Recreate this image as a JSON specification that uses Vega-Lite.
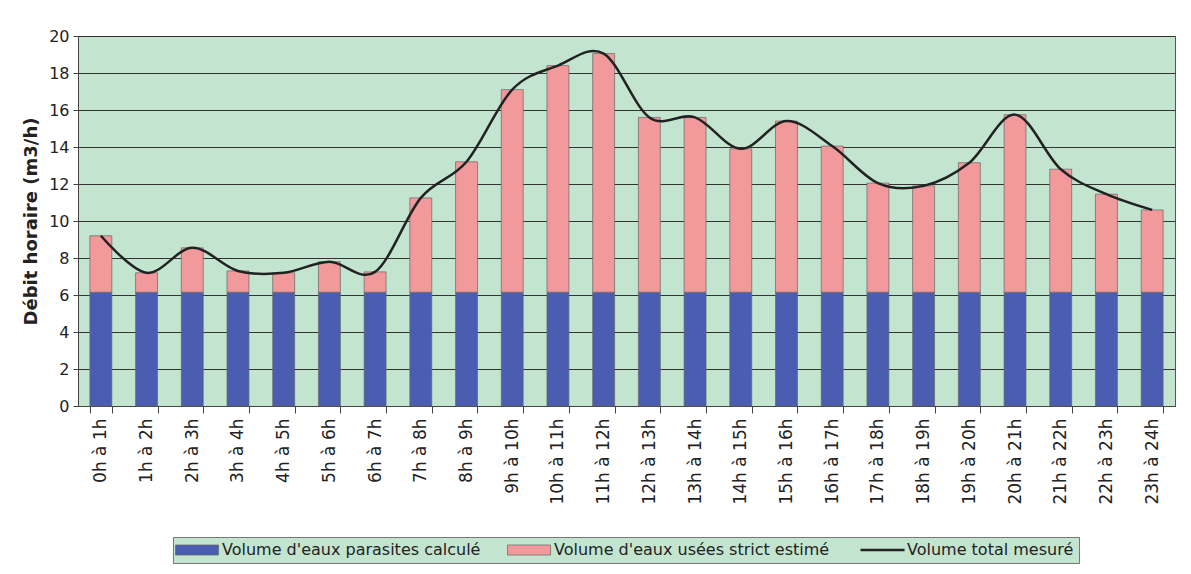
{
  "$schema": "https://vega.github.io/schema/vega-lite/v6.json",
  "width": 1097,
  "height": 370,
  "autosize": "none",
  "padding": {"left": 78, "top": 36, "right": 16, "bottom": 168},
  "background": "#ffffff",
  "config": {
    "font": "DejaVu Sans",
    "view": {"fill": "#c3e5d0", "stroke": "#555555", "strokeWidth": 1}
  },
  "datasets": {
    "tot": [
      {"h": "0h à 1h", "par": 6.15, "use": 3.05, "total": 9.2},
      {"h": "1h à 2h", "par": 6.15, "use": 1.05, "total": 7.2},
      {"h": "2h à 3h", "par": 6.15, "use": 2.4, "total": 8.55},
      {"h": "3h à 4h", "par": 6.15, "use": 1.15, "total": 7.3},
      {"h": "4h à 5h", "par": 6.15, "use": 1.05, "total": 7.2},
      {"h": "5h à 6h", "par": 6.15, "use": 1.65, "total": 7.8},
      {"h": "6h à 7h", "par": 6.15, "use": 1.1, "total": 7.25},
      {"h": "7h à 8h", "par": 6.15, "use": 5.1, "total": 11.25},
      {"h": "8h à 9h", "par": 6.15, "use": 7.05, "total": 13.2},
      {"h": "9h à 10h", "par": 6.15, "use": 10.95, "total": 17.1},
      {"h": "10h à 11h", "par": 6.15, "use": 12.25, "total": 18.4},
      {"h": "11h à 12h", "par": 6.15, "use": 12.9, "total": 19.05},
      {"h": "12h à 13h", "par": 6.15, "use": 9.45, "total": 15.6},
      {"h": "13h à 14h", "par": 6.15, "use": 9.45, "total": 15.6},
      {"h": "14h à 15h", "par": 6.15, "use": 7.75, "total": 13.9},
      {"h": "15h à 16h", "par": 6.15, "use": 9.25, "total": 15.4},
      {"h": "16h à 17h", "par": 6.15, "use": 7.9, "total": 14.05},
      {"h": "17h à 18h", "par": 6.15, "use": 5.9, "total": 12.05},
      {"h": "18h à 19h", "par": 6.15, "use": 5.75, "total": 11.9},
      {"h": "19h à 20h", "par": 6.15, "use": 7.0, "total": 13.15},
      {"h": "20h à 21h", "par": 6.15, "use": 9.6, "total": 15.75},
      {"h": "21h à 22h", "par": 6.15, "use": 6.65, "total": 12.8},
      {"h": "22h à 23h", "par": 6.15, "use": 5.3, "total": 11.45},
      {"h": "23h à 24h", "par": 6.15, "use": 4.45, "total": 10.6}
    ]
  },
  "data": {"name": "tot"},
  "encoding": {
    "x": {
      "field": "h", "type": "nominal", "sort": null,
      "scale": {"paddingInner": 0.52, "paddingOuter": 0.26},
      "axis": {
        "title": null, "labelAngle": -90, "labelFontSize": 17, "labelColor": "#222222",
        "tickBand": "extent", "tickSize": 7, "tickColor": "#444444", "domainColor": "#444444",
        "labelPadding": 5, "labelAlign": "right", "labelBaseline": "middle"
      }
    }
  },
  "layer": [
    {
      "transform": [{"fold": ["par", "use"], "as": ["serie", "v"]}],
      "mark": {"type": "bar"},
      "encoding": {
        "y": {
          "field": "v", "type": "quantitative", "stack": "zero",
          "scale": {"domain": [0, 20]},
          "axis": {
            "title": "Débit horaire (m3/h)", "titleFontSize": 18, "titleFontWeight": "bold", "titleColor": "#222222",
            "titlePadding": 8, "values": [0,2,4,6,8,10,12,14,16,18,20], "labelOverlap": false,
            "labelFontSize": 16, "labelColor": "#222222", "grid": true, "gridColor": "#333333", "gridWidth": 1,
            "tickSize": 5, "tickColor": "#444444", "domainColor": "#444444", "labelPadding": 4
          }
        },
        "stroke": {"value": "#666666"},
        "strokeWidth": {"value": 0.7},
        "color": {
          "field": "serie", "type": "nominal",
          "scale": {
            "domain": ["par", "use", "tot"],
            "range": ["#4a5db0", "#f2999b", "#222222"]
          },
          "legend": {
            "title": null, "orient": "none", "legendX": 95, "legendY": 501, "direction": "horizontal",
            "labelFontSize": 16, "labelColor": "#222222", "symbolSize": 441,
            "symbolType": {"expr": "datum.value === 'tot' ? 'M-1,0H3.2' : 'M-1,-0.48H3.1V0.48H-1Z'"},
            "symbolStrokeColor": {"expr": "datum.value === 'tot' ? '#222222' : '#666666'"},
            "symbolStrokeWidth": {"expr": "datum.value === 'tot' ? 2.5 : 0.7"},
            "fillColor": "#c3e5d0", "strokeColor": "#777777", "padding": 5, "columnPadding": 25,
            "labelOffset": 28, "labelLimit": 400,
            "labelExpr": "datum.value === 'par' ? \"Volume d'eaux parasites calculé\" : datum.value === 'use' ? \"Volume d'eaux usées strict estimé\" : 'Volume total mesuré'"
          }
        },
        "order": {"field": "serie", "type": "nominal", "sort": "ascending"}
      }
    },
    {
      "mark": {"type": "line", "interpolate": "cardinal", "tension": 0, "strokeWidth": 2.5, "color": "#222222"},
      "encoding": {
        "y": {
          "field": "total", "type": "quantitative",
          "axis": {
            "title": "Débit horaire (m3/h)", "titleFontSize": 18, "titleFontWeight": "bold", "titleColor": "#222222",
            "titlePadding": 8, "values": [0,2,4,6,8,10,12,14,16,18,20], "labelOverlap": false,
            "labelFontSize": 16, "labelColor": "#222222", "grid": true, "gridColor": "#333333", "gridWidth": 1,
            "tickSize": 5, "tickColor": "#444444", "domainColor": "#444444", "labelPadding": 4
          }
        }
      }
    }
  ]
}
